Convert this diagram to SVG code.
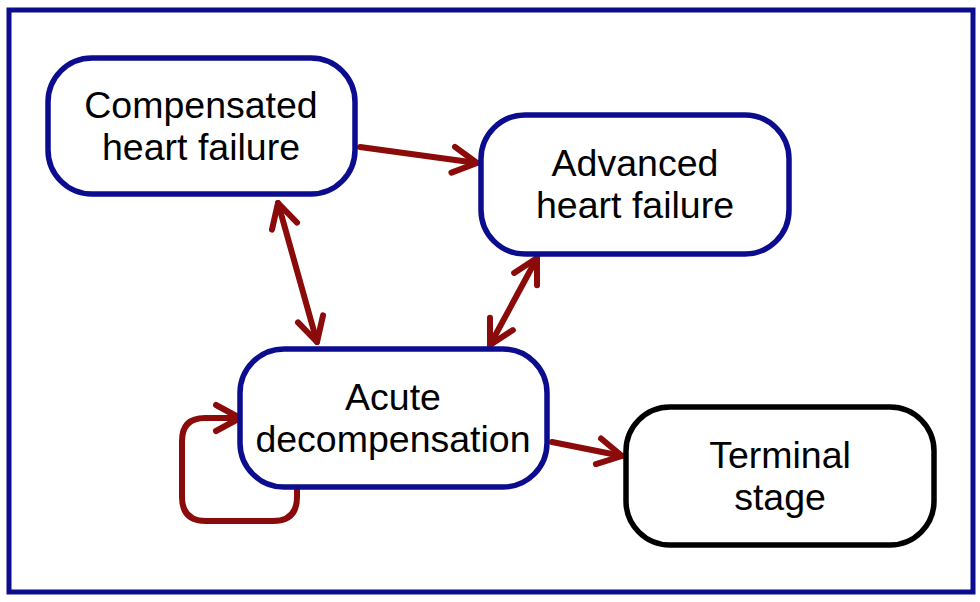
<svg xmlns="http://www.w3.org/2000/svg" width="980" height="602" viewBox="0 0 980 602">
<style>
.node{fill:#fff;stroke:#0c0c8e;stroke-width:5.5}
.term{fill:#fff;stroke:#000;stroke-width:5.5}
.lbl{font-family:"Liberation Sans",Arial,sans-serif;font-size:37.5px;fill:#000;text-anchor:middle}
.edge{fill:none;stroke:#8b0a0a;stroke-width:6;stroke-linecap:round;stroke-linejoin:round}
</style>
<defs>
<marker id="ah" markerUnits="userSpaceOnUse" markerWidth="40" markerHeight="40" refX="0" refY="0" viewBox="-30 -20 40 40" orient="auto-start-reverse" overflow="visible">
<path d="M-24,-13 L0,0 L-24,13" fill="none" stroke="#8b0a0a" stroke-width="6" stroke-linecap="round" stroke-linejoin="round"/>
</marker>
</defs>
<rect x="9" y="10" width="964" height="582" fill="#fff" stroke="#0c0c8e" stroke-width="5"/>
<g id="connectors">
<path class="edge" d="M360,147 L477,163" marker-end="url(#ah)"/>
<path class="edge" d="M278,203 L317,342" marker-start="url(#ah)" marker-end="url(#ah)"/>
<path class="edge" d="M537,258 L490,345" marker-start="url(#ah)" marker-end="url(#ah)"/>
<path class="edge" d="M552,442 L622,456" marker-end="url(#ah)"/>
<path class="edge" d="M297,489 L297,497 Q297,521 273,521 L206,521 Q182,521 182,497 L182,441 Q182,418 205,418 L240,418" marker-end="url(#ah)"/>
</g>
<g id="n1">
<rect class="node" x="48" y="58" width="307" height="136" rx="44" ry="44"/>
<text class="lbl" x="201" y="118">Compensated</text>
<text class="lbl" x="201" y="160">heart failure</text>
</g>
<g id="n2">
<rect class="node" x="481" y="115" width="308" height="139" rx="44" ry="44"/>
<text class="lbl" x="635" y="176">Advanced</text>
<text class="lbl" x="635" y="218">heart failure</text>
</g>
<g id="n3">
<rect class="node" x="240" y="349" width="307" height="138" rx="44" ry="44"/>
<text class="lbl" x="393" y="410">Acute</text>
<text class="lbl" x="393" y="452">decompensation</text>
</g>
<g id="n4">
<rect class="term" x="626" y="407" width="308" height="138" rx="44" ry="44"/>
<text class="lbl" x="780" y="468">Terminal</text>
<text class="lbl" x="780" y="510">stage</text>
</g>
</svg>
